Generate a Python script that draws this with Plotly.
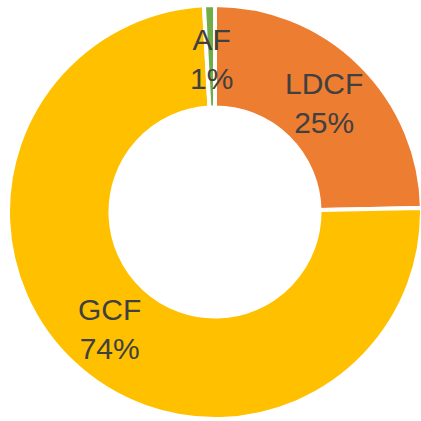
import plotly.graph_objects as go

labels = ["LDCF", "GCF", "AF"]
values = [24.7, 74.45, 0.85]
colors = ["#ED7D31", "#FFC000", "#70AD47"]
label_text = ["LDCF<br>25%", "GCF<br>74%", "AF<br>1%"]
label_pos = [(324, 103), (109, 329), (211, 59)]

W, H = 423, 421
fig = go.Figure(go.Pie(
    labels=labels, values=values, sort=False, direction="clockwise", rotation=0,
    hole=0.505, marker=dict(colors=colors, line=dict(color="white", width=4)),
    textinfo="none", hoverinfo="label+percent", showlegend=False,
    domain=dict(x=[8 / W, 422 / W], y=[2 / H, 416 / H]),
))
for t, (px, py) in zip(label_text, label_pos):
    fig.add_annotation(x=px / W, y=1 - py / H, xref="paper", yref="paper", text=t,
                       showarrow=False, xanchor="center", yanchor="middle",
                       font=dict(family="Liberation Sans, Arial", size=30, color="#404040"))
fig.update_layout(width=W, height=H, margin=dict(l=0, r=0, t=0, b=0),
                  paper_bgcolor="white", plot_bgcolor="white")
fig.write_html("out.html", config={"displayModeBar": False},
               post_script="document.body.style.margin='0';document.body.style.overflow='hidden';")
